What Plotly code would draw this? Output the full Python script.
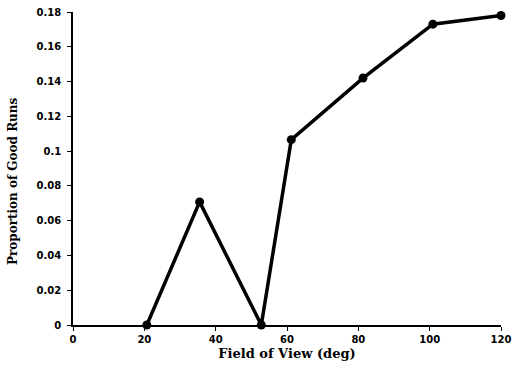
import plotly.graph_objects as go

field_of_view = [20.7, 35.5, 52.8, 61.2, 81.3, 100.9, 120.0]
proportion_good = [0.0, 0.0708, 0.0, 0.1066, 0.142, 0.173, 0.178]

x_ticks = [0, 20, 40, 60, 80, 100, 120]
y_ticks = [0, 0.02, 0.04, 0.06, 0.08, 0.1, 0.12, 0.14, 0.16, 0.18]
y_tick_labels = ["0", "0.02", "0.04", "0.06", "0.08", "0.1", "0.12", "0.14", "0.16", "0.18"]

x_title = "Field of View (deg)"
y_title = "Proportion of Good Runs"

title_font = "DejaVu Serif"
tick_font = "DejaVu Sans"

fig = go.Figure()
fig.add_trace(go.Scatter(
    x=field_of_view, y=proportion_good,
    mode="lines+markers",
    line=dict(color="black", width=3.5),
    marker=dict(color="black", size=9, symbol="circle"),
    cliponaxis=False,
    showlegend=False,
))

fig.update_layout(
    width=514, height=374,
    margin=dict(l=73, r=13, t=12, b=49),
    paper_bgcolor="white", plot_bgcolor="white",
    font=dict(family=title_font, color="black"),
)
fig.update_xaxes(
    range=[0, 120], tickvals=x_ticks, ticktext=[str(v) for v in x_ticks],
    showgrid=False, zeroline=False, showline=True, linecolor="black", linewidth=1.5,
    ticks="outside", ticklen=4, tickcolor="black", automargin=False,
    tickfont=dict(family=tick_font, size=10, color="black", weight="bold"),
    title=dict(text="<b>" + x_title + "</b>", font=dict(family=title_font, size=13), standoff=5),
)
fig.update_yaxes(
    range=[0, 0.18], tickvals=y_ticks, ticktext=y_tick_labels,
    showgrid=False, zeroline=False, showline=True, linecolor="black", linewidth=1.5,
    ticks="outside", ticklen=4, tickcolor="black", automargin=False,
    ticklabelstandoff=4,
    tickfont=dict(family=tick_font, size=10, color="black", weight="bold"),
)
fig.add_annotation(
    text="<b>" + y_title + "</b>", xref="paper", yref="paper",
    x=-0.14, y=0.46, xanchor="center", yanchor="middle", textangle=-90,
    showarrow=False, font=dict(family=title_font, size=12, color="black"),
)

fig.write_html("out.html", config={"displayModeBar": False},
               post_script="document.body.style.margin='0';")
